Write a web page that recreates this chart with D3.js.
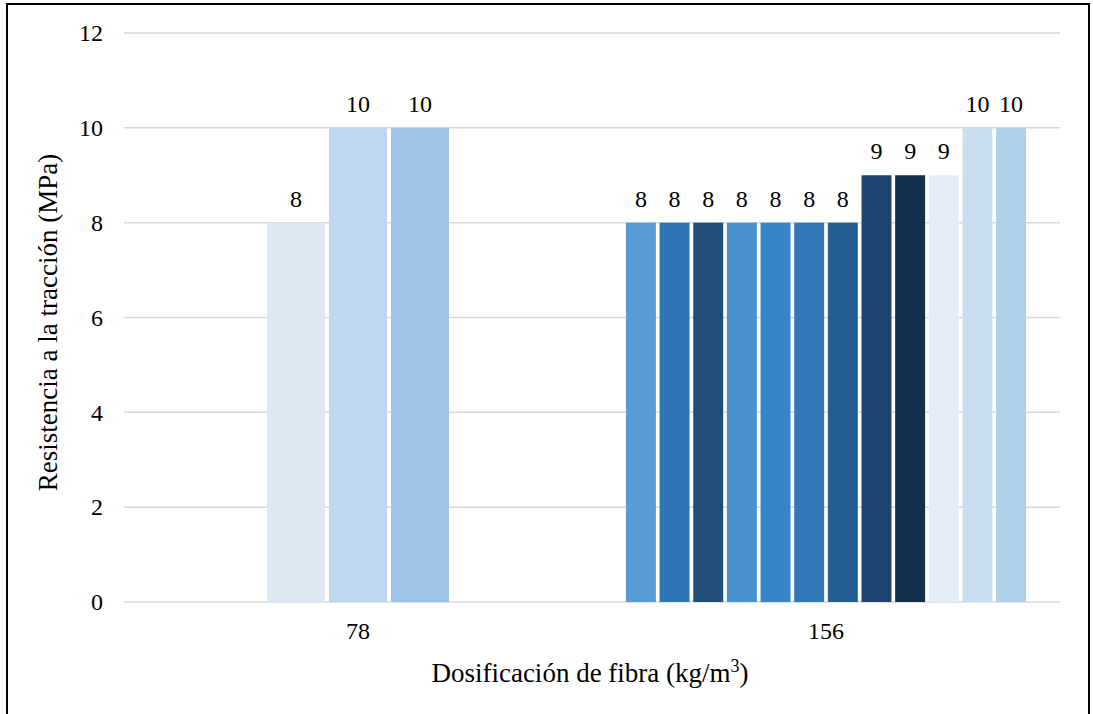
<!DOCTYPE html>
<html>
<head>
<meta charset="utf-8">
<script src="https://cdn.jsdelivr.net/npm/d3@7"></script>
<style>
  html, body { margin: 0; padding: 0; background: #fff; }
</style>
</head>
<body>
<svg id="chart" width="1093" height="714"></svg>
<script>
// Fibre dosage groups and the tensile strength of each specimen
const categories = ["78", "156"];
const values78 = [8, 10, 10];
const values156 = [8, 8, 8, 8, 8, 8, 8, 9, 9, 9, 10, 10];
const colors78 = ["#DEE8F4", "#BDD7EE", "#9DC3E6"];
const colors156 = ["#5B9BD5", "#2E75B6", "#1F4E79", "#4A91CE", "#3585C8", "#3277B8",
                   "#245F91", "#1E4470", "#142F4A", "#E3EDF7", "#CADEF1", "#B0CFEA"];
const yTicks = [0, 2, 4, 6, 8, 10, 12];

const groups = [
  { cat: categories[0], values: values78, colors: colors78, span: 0.389, pad: 0.065 },
  { cat: categories[1], values: values156, colors: colors156, span: 0.855, pad: 0.11 }
];

const FONT = "'Liberation Serif', 'Times New Roman', Times, serif";

const svg = d3.select("#chart");
const W = 1093, H = 714;
const margin = { left: 124, right: 33, top: 33, bottom: 112 };

// outer frame
svg.append("rect")
  .attr("x", 7).attr("y", 4)
  .attr("width", 1082).attr("height", H + 20)
  .attr("fill", "none").attr("stroke", "#000").attr("stroke-width", 2);

const x = d3.scaleBand()
  .domain(categories)
  .range([margin.left, W - margin.right])
  .padding(0);

const y = d3.scaleLinear()
  .domain([0, 12])
  .range([H - margin.bottom, margin.top]);

// horizontal gridlines
svg.append("g")
  .selectAll("line")
  .data(yTicks)
  .join("line")
  .attr("x1", margin.left).attr("x2", W - margin.right)
  .attr("y1", d => y(d)).attr("y2", d => y(d))
  .attr("stroke", "#D9D9D9").attr("stroke-width", 1.5);

// y axis tick labels
const yAxis = d3.axisLeft(y).tickValues(yTicks).tickSize(0).tickPadding(0).tickFormat(d3.format("d"));
svg.append("g")
  .attr("transform", `translate(${margin.left - 21},0)`)
  .call(yAxis)
  .attr("font-family", FONT)
  .attr("font-size", 24)
  .call(g => g.select(".domain").remove())
  .selectAll("text")
  .attr("fill", "#000");

// bars per group, each with its value label
groups.forEach(g => {
  const center = x(g.cat) + x.bandwidth() / 2;
  const gw = x.bandwidth() * g.span;
  const inner = d3.scaleBand()
    .domain(d3.range(g.values.length))
    .range([center - gw / 2, center + gw / 2])
    .paddingInner(g.pad)
    .paddingOuter(0);
  const gg = svg.append("g");
  gg.selectAll("rect")
    .data(g.values)
    .join("rect")
    .attr("x", (d, i) => inner(i))
    .attr("width", inner.bandwidth())
    .attr("y", d => y(d))
    .attr("height", d => y(0) - y(d))
    .attr("fill", (d, i) => g.colors[i]);
  gg.selectAll("text")
    .data(g.values)
    .join("text")
    .attr("x", (d, i) => inner(i) + inner.bandwidth() / 2)
    .attr("y", d => y(d) - 16)
    .attr("text-anchor", "middle")
    .attr("font-family", FONT)
    .attr("font-size", 24)
    .attr("fill", "#000")
    .text(d => d);
});

// x axis category labels
const xAxis = d3.axisBottom(x).tickSize(0).tickPadding(0);
svg.append("g")
  .attr("transform", `translate(0,${y(0) + 20})`)
  .call(xAxis)
  .attr("font-family", FONT)
  .attr("font-size", 24)
  .call(g => g.select(".domain").remove())
  .selectAll("text")
  .attr("fill", "#000");

// axis titles
const xt = svg.append("text")
  .attr("x", (margin.left + W - margin.right) / 2 - 2)
  .attr("y", 682)
  .attr("text-anchor", "middle")
  .attr("font-family", FONT)
  .attr("font-size", 27)
  .attr("fill", "#000");
xt.append("tspan").text("Dosificación de fibra (kg/m");
xt.append("tspan").attr("dy", -10).attr("font-size", 18).text("3");
xt.append("tspan").attr("dy", 10).text(")");

svg.append("text")
  .attr("transform", `translate(57,${(y(0) + y(12)) / 2 + 5}) rotate(-90)`)
  .attr("text-anchor", "middle")
  .attr("font-family", FONT)
  .attr("font-size", 27)
  .attr("fill", "#000")
  .text("Resistencia a la tracción (MPa)");
</script>
</body>
</html>
